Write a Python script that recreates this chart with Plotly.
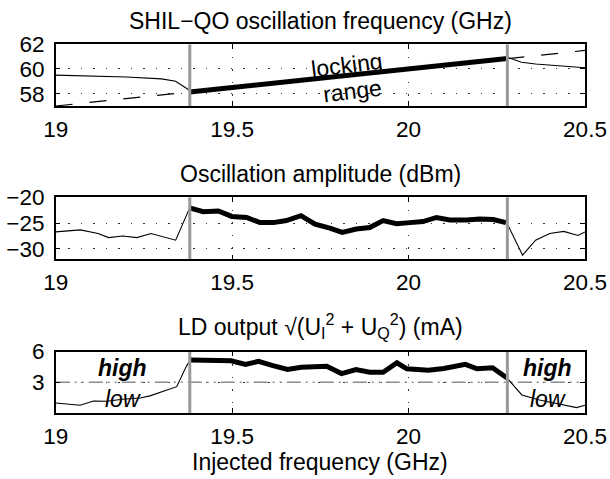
import plotly.graph_objects as go

# ---------------- data ----------------
lock_lo = 19.38
lock_hi = 20.28

x_ticks = [19, 19.5, 20, 20.5]
x_ticktext = ["19", "19.5", "20", "20.5"]

# Panel 1: SHIL-QO oscillation frequency (GHz)
inj_left_x = [19.0, 19.38]
inj_left_y = [57.0, 58.14]
inj_right_x = [20.28, 20.5]
inj_right_y = [60.84, 61.5]
freq_left_x = [19.0, 19.1, 19.2, 19.3, 19.34, 19.38]
freq_left_y = [59.5, 59.45, 59.35, 59.2, 59.0, 58.25]
freq_lock_x = [19.38, 20.28]
freq_lock_y = [58.14, 60.84]
freq_right_x = [20.28, 20.30, 20.32, 20.36, 20.42, 20.5]
freq_right_y = [60.95, 60.75, 60.55, 60.4, 60.25, 60.1]
p1_yticks = [58, 60, 62]

# Panel 2: Oscillation amplitude (dBm)
amp_left_x = [19.0, 19.07, 19.12, 19.15, 19.19, 19.23, 19.27, 19.30, 19.34, 19.38]
amp_left_y = [-26.7, -26.3, -27.0, -27.8, -27.5, -27.8, -27.0, -27.5, -28.3, -22.0]
amp_lock_x = [19.382, 19.418, 19.461, 19.499, 19.541, 19.579, 19.617, 19.654, 19.695,
              19.735, 19.777, 19.812, 19.852, 19.890, 19.928, 19.966, 20.004, 20.041,
              20.079, 20.117, 20.164, 20.202, 20.240, 20.276]
amp_lock_y = [-22.1, -22.8, -22.65, -23.7, -23.9, -24.9, -24.9, -24.5, -23.55,
              -25.2, -25.96, -26.8, -26.15, -25.85, -24.5, -25.1, -24.9, -24.7,
              -23.9, -24.4, -24.4, -24.2, -24.3, -24.9]
amp_right_x = [20.278, 20.323, 20.36, 20.40, 20.44, 20.48, 20.5]
amp_right_y = [-24.9, -31.2, -28.3, -27.0, -26.6, -27.4, -26.7]
p2_yticks = [-30, -25, -20]

# Panel 3: LD output (mA)
ld_left_x = [19.0, 19.069, 19.107, 19.144, 19.19, 19.239, 19.267, 19.305, 19.343, 19.371, 19.38]
ld_left_y = [0.98, 0.75, 1.17, 1.14, 1.34, 1.47, 1.67, 2.14, 2.57, 4.6, 5.1]
ld_lock_x = [19.381, 19.437, 19.497, 19.538, 19.575, 19.613, 19.657, 19.696, 19.768,
             19.81, 19.851, 19.89, 19.928, 19.967, 19.995, 20.056, 20.1, 20.161,
             20.194, 20.238, 20.279]
ld_lock_y = [5.17, 5.14, 5.1, 4.74, 5.04, 4.64, 4.24, 4.47, 4.57,
             3.85, 4.24, 3.98, 3.98, 4.9, 4.31, 4.18, 4.34, 4.74,
             4.31, 4.41, 3.41]
ld_right_x = [20.279, 20.321, 20.371, 20.409, 20.445, 20.476, 20.5]
ld_right_y = [3.41, 1.76, 1.26, 1.0, 0.8, 0.53, 0.76]
threshold = 3
p3_yticks = [3, 6]

titles = [
    "SHIL\u2212QO oscillation frequency (GHz)",
    "Oscillation amplitude (dBm)",
    "LD output \u221a(U<sub>I</sub><sup>2</sup> + U<sub>Q</sub><sup>2</sup>) (mA)",
]
xlabel = "Injected frequency (GHz)"

# ---------------- figure ----------------
W, H = 610, 479
FONT = "Liberation Sans, Arial, Helvetica, sans-serif"
FS = 23
TFS = 22.5

fig = go.Figure()

def line(x, y, ax, width=1, color="black", dash="solid"):
    fig.add_trace(go.Scatter(x=x, y=y, mode="lines", xaxis="x" + ax, yaxis="y" + ax,
                             line=dict(color=color, width=width, dash=dash),
                             showlegend=False, hoverinfo="skip"))

yr = {"": [57, 62], "2": [-32, -20], "3": [0, 6]}

# panel 1
line(inj_left_x + [None] + inj_right_x, inj_left_y + [None] + inj_right_y, "", 1.2, dash="17px,17px")
line(freq_left_x, freq_left_y, "", 1.1)
line(freq_right_x, freq_right_y, "", 1.1)
line(freq_lock_x, freq_lock_y, "", 5)
# panel 2
line(amp_left_x, amp_left_y, "2", 1.1)
line(amp_right_x, amp_right_y, "2", 1.1)
line(amp_lock_x, amp_lock_y, "2", 5)
# panel 3
line([19, 20.5], [threshold, threshold], "3", 1.3, color="#8c8c8c", dash="14px,5px,2px,5px,2px,5px")
line(ld_left_x, ld_left_y, "3", 1.1)
line(ld_right_x, ld_right_y, "3", 1.1)
line(ld_lock_x, ld_lock_y, "3", 5)

# grey locking-range boundaries
for ax in ["", "2", "3"]:
    for xv in (lock_lo, lock_hi):
        line([xv, xv], yr[ax], ax, 3, color="#999999")

# panel domains (pixels from top)
panels = {"": (44.3, 106.0), "2": (197.3, 259.3), "3": (351.5, 413.0)}
xdom = [55.7 / W, 585.0 / W]
yticks = {"": p1_yticks, "2": p2_yticks, "3": p3_yticks}

layout = dict(
    width=W, height=H, margin=dict(l=0, r=0, t=0, b=0, autoexpand=False),
    paper_bgcolor="white", plot_bgcolor="white",
    font=dict(family=FONT, size=FS, color="black"),
    showlegend=False,
)
grid_dash = "1.5px,11px"
for ax, (top, bot) in panels.items():
    layout["xaxis" + ax] = dict(
        domain=xdom, range=[19, 20.5], anchor="y" + ax, automargin=False,
        tickvals=x_ticks, ticktext=x_ticktext,
        showline=True, linecolor="black", linewidth=1.5, mirror="ticks",
        ticks="inside", ticklen=5, tickcolor="black", tickwidth=1,
        showgrid=True, gridcolor="#333333", gridwidth=1, griddash=grid_dash,
        zeroline=False, ticklabelstandoff=2,
        tickfont=dict(family=FONT, size=TFS, color="black"),
    )
    layout["yaxis" + ax] = dict(
        domain=[1 - bot / H, 1 - top / H], range=yr[ax], anchor="x" + ax, automargin=False,
        tickvals=yticks[ax],
        showline=True, linecolor="black", linewidth=1.5, mirror="ticks",
        ticks="inside", ticklen=5, tickcolor="black", tickwidth=1,
        showgrid=True, gridcolor="#333333", gridwidth=1, griddash=grid_dash,
        zeroline=False, ticklabelstandoff=5,
        tickfont=dict(family=FONT, size=TFS, color="black"),
    )
fig.update_layout(**layout)

ann = []
title_centers = [21, 174, 326]
for t, yc in zip(titles, title_centers):
    ann.append(dict(text=t, xref="paper", yref="paper", x=(xdom[0] + xdom[1]) / 2,
                    y=1 - yc / H, xanchor="center", yanchor="middle", showarrow=False,
                    font=dict(family=FONT, size=FS, color="black")))
ann.append(dict(text=xlabel, xref="paper", yref="paper", x=(xdom[0] + xdom[1]) / 2,
                y=1 - 462 / H, xanchor="center", yanchor="middle", showarrow=False,
                font=dict(family=FONT, size=FS, color="black")))
# locking range labels
ann.append(dict(text="locking", xref="x", yref="y", x=19.825, y=60.3, textangle=-7,
                showarrow=False, font=dict(family=FONT, size=FS, color="black")))
ann.append(dict(text="range", xref="x", yref="y", x=19.84, y=58.2, textangle=-7,
                showarrow=False, font=dict(family=FONT, size=FS, color="black")))
# high / low labels
for xv in (19.19, 20.395):
    ann.append(dict(text="<b><i>high</i></b>", xref="x3", yref="y3", x=xv, y=4.4,
                    showarrow=False, font=dict(family=FONT, size=FS, color="black")))
    ann.append(dict(text="<i>low</i>", xref="x3", yref="y3", x=xv, y=1.4,
                    showarrow=False, font=dict(family=FONT, size=FS, color="black")))
fig.update_layout(annotations=ann)

fig.write_html("out.html")
